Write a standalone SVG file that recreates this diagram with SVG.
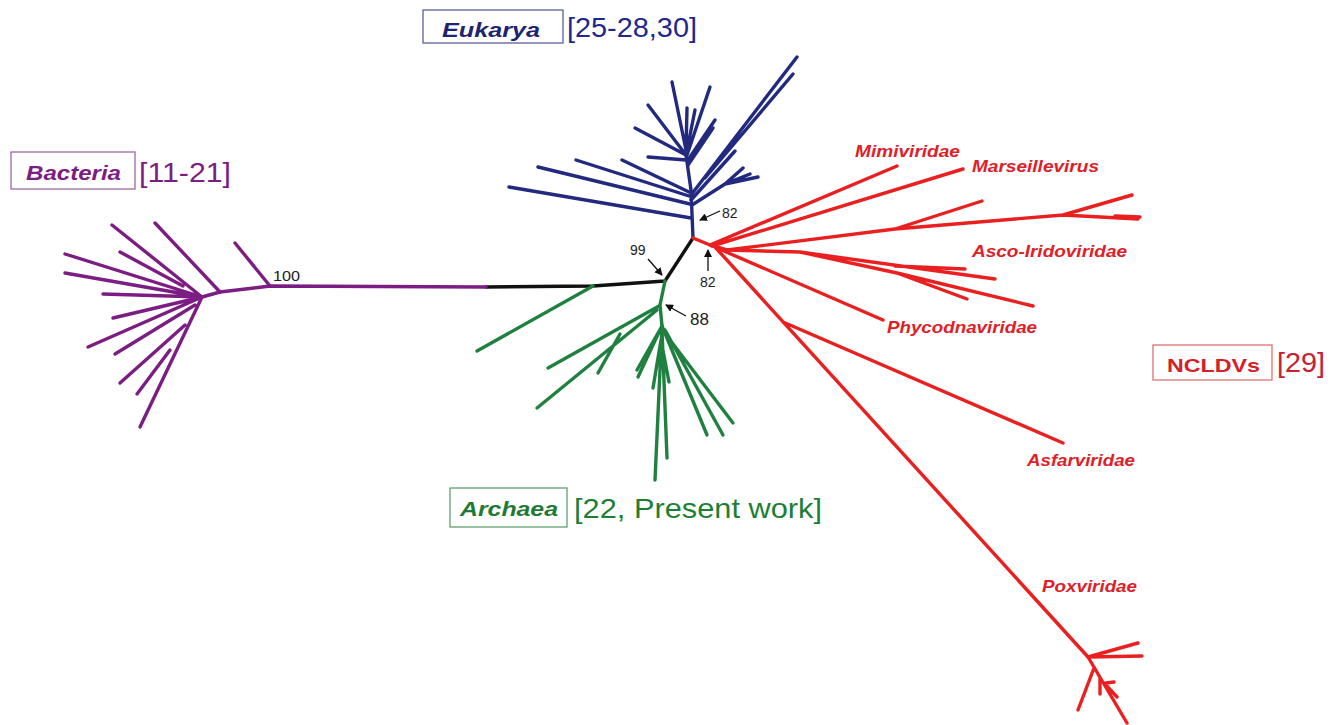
<svg xmlns="http://www.w3.org/2000/svg" width="1331" height="725" viewBox="0 0 1331 725">
<defs>
<marker id="ah" markerWidth="8" markerHeight="8" refX="7" refY="4" orient="auto" markerUnits="userSpaceOnUse">
<path d="M0,0 L8,4 L0,8 Z" fill="#111"/>
</marker>
<style>
.br{fill:none;stroke-width:3.4;stroke-linecap:round;stroke-linejoin:round}
.bac{stroke:#7b1d83}
.euk{stroke:#222a80}
.arc{stroke:#1f8040}
.ncl{stroke:#ea2020}
.blk{stroke:#111}
.num{font-family:"Liberation Sans",Arial,sans-serif;font-size:14px;fill:#222}
.arr{stroke:#111;stroke-width:1.3;fill:none}
.lab{font-family:"Liberation Sans",Arial,sans-serif;font-weight:bold;font-style:italic;font-size:17px;fill:#e02028}
.box{fill:#fff;stroke-width:1.3}
.brk{font-family:"Liberation Sans",Arial,sans-serif;font-size:28px}
.bx{font-family:"Liberation Sans",Arial,sans-serif;font-weight:bold;font-style:italic;font-size:21px}
</style>
</defs>
<rect width="1331" height="725" fill="#fff"/>
<g id="connectors">
<!-- central black backbone -->
<path class="br blk" d="M486,287 L593,286 L665,281 L693,238"/>
<!-- bacteria -->
<path class="br bac" d="M486,287 L270,286 L220,292 L202,297"/>
<path class="br bac" d="M270,286 L235,243 M220,292 L155,223"/>
<path class="br bac" d="M202,297 L112,225 M183,286 L120,252 M202,297 L65,254 M202,297 L65,273 M202,297 L103,294"/>
<path class="br bac" d="M202,297 L113,318 M202,297 L88,347 M195,305 L115,354 M202,297 L140,427 M185,325 L120,383 M170,350 L137,394"/>
<!-- eukarya -->
<path class="br euk" d="M693,238 L691,190 L686,155"/>
<path class="br euk" d="M691,218 L509,187 M690,204 L538,167 M689,196 L576,160 M689,192 L622,160"/>
<path class="br euk" d="M686,160 L648,157 M686,155 L635,128 M686,155 L648,105 M686,150 L672,82 M686,150 L687,108 M687,150 L695,110 M687,155 L710,87 M688,160 L715,120 M688,165 L713,128"/>
<path class="br euk" d="M691,195 L797,57 M705,178 L793,74 M691,200 L735,151 M692,205 L725,184 L743,168 M725,184 L758,177 M725,184 L750,174"/>
<!-- archaea -->
<path class="br arc" d="M593,286 L477,351"/>
<path class="br arc" d="M665,281 L660,305 L662,326"/>
<path class="br arc" d="M659,306 L548,368 M657,310 L537,408 M620,334 L598,373"/>
<path class="br arc" d="M662,326 L637,370 M660,330 L638,377 M662,326 L655,480 M662,330 L667,458 M661,340 L653,388 M661,340 L669,382"/>
<path class="br arc" d="M662,326 L707,435 M665,330 L723,435 M670,340 L733,423"/>
<!-- NCLDVs -->
<path class="br ncl" d="M693,238 L710,245 L727,250"/>
<path class="br ncl" d="M710,245 L897,166 M712,246 L963,169"/>
<path class="br ncl" d="M727,250 L895,229 L1063,215 L1138,219 M895,229 L982,201 M1063,215 L1132,195 M1115,216 L1140,217"/>
<path class="br ncl" d="M727,250 L800,252 L995,279 M895,266 L965,269 M800,252 L897,273 L1033,306 M897,273 L967,299"/>
<path class="br ncl" d="M717,248 L883,320"/>
<path class="br ncl" d="M715,247 L1088,657 M783,322 L1063,443"/>
<path class="br ncl" d="M1088,657 L1138,643 M1088,657 L1142,656 M1088,657 L1127,723 M1094,668 L1078,710 M1100,678 L1100,694 M1104,683 L1117,697 M1106,683 L1114,682"/>
</g>
<g id="support-labels">
<text class="num" x="273" y="281" textLength="27" lengthAdjust="spacingAndGlyphs">100</text>
<text class="num" x="722" y="218">82</text>
<path class="arr" d="M720,211 L700,220" marker-end="url(#ah)"/>
<text class="num" x="630" y="255">99</text>
<path class="arr" d="M648,259 L662,275" marker-end="url(#ah)"/>
<text class="num" x="700" y="287">82</text>
<path class="arr" d="M708,271 L708,250" marker-end="url(#ah)"/>
<text class="num" x="690" y="325" style="font-size:17px">88</text>
<path class="arr" d="M686,316 L666,305" marker-end="url(#ah)"/>
</g>
<g id="bacteria">
<rect class="box" x="11" y="152" width="124" height="37" stroke="#9a6aa0"/>
<text class="bx" x="26" y="180" fill="#7b1d83" textLength="95" lengthAdjust="spacingAndGlyphs">Bacteria</text>
<text class="brk" x="139" y="182" fill="#7b1d83" textLength="92" lengthAdjust="spacingAndGlyphs">[11-21]</text>
</g>
<g id="eukarya">
<rect class="box" x="423" y="10" width="140" height="33" stroke="#5b5e98"/>
<text class="bx" x="442" y="37" fill="#1e2470" textLength="98" lengthAdjust="spacingAndGlyphs">Eukarya</text>
<text class="brk" x="567" y="37" fill="#1e2890" textLength="130" lengthAdjust="spacingAndGlyphs">[25-28,30]</text>
</g>
<g id="archaea">
<rect class="box" x="450" y="488" width="117" height="39" stroke="#62a070"/>
<text class="bx" x="460" y="516" fill="#1e7a34" textLength="98" lengthAdjust="spacingAndGlyphs">Archaea</text>
<text class="brk" x="574" y="518" fill="#1e7f34" textLength="248" lengthAdjust="spacingAndGlyphs">[22, Present work]</text>
</g>
<g id="ncldvs">
<rect class="box" x="1153" y="345" width="119" height="35" stroke="#e07070"/>
<text x="1167" y="372" font-family="'Liberation Sans',Arial,sans-serif" font-weight="bold" font-size="19" fill="#d42028" textLength="93" lengthAdjust="spacingAndGlyphs">NCLDVs</text>
<text class="brk" x="1277" y="372" fill="#c82030" textLength="48" lengthAdjust="spacingAndGlyphs">[29]</text>
</g>
<g id="ncldv-families">
<text class="lab" x="855" y="157" textLength="105" lengthAdjust="spacingAndGlyphs">Mimiviridae</text>
<text class="lab" x="972" y="172" textLength="127" lengthAdjust="spacingAndGlyphs">Marseillevirus</text>
<text class="lab" x="972" y="257" textLength="155" lengthAdjust="spacingAndGlyphs">Asco-Iridoviridae</text>
<text class="lab" x="887" y="333" textLength="150" lengthAdjust="spacingAndGlyphs">Phycodnaviridae</text>
<text class="lab" x="1027" y="466" textLength="108" lengthAdjust="spacingAndGlyphs">Asfarviridae</text>
<text class="lab" x="1042" y="592" textLength="95" lengthAdjust="spacingAndGlyphs">Poxviridae</text>
</g>
</svg>
